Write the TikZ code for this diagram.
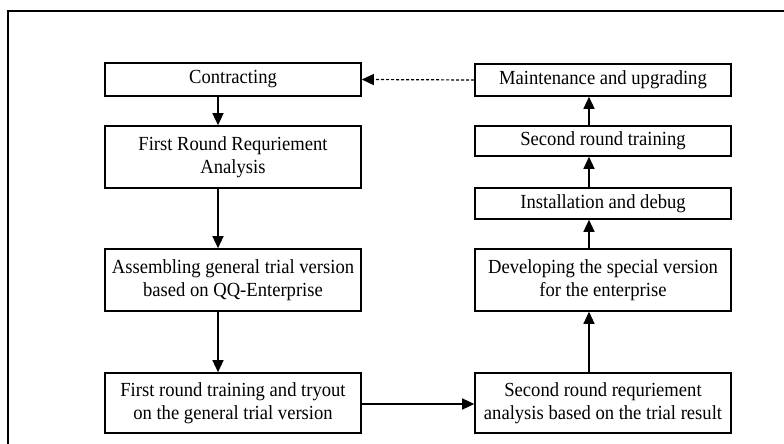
\documentclass[tikz,border=0pt]{standalone}
\usepackage{fontspec}
\setmainfont{Liberation Serif}[FakeStretch=0.93]
\usetikzlibrary{arrows.meta}
\begin{document}
\begin{tikzpicture}[x=1pt,y=-1pt,
  box/.style={draw,line width=1.6pt,minimum width=256pt,inner sep=0pt,align=center,
    font=\fontsize{20}{23}\selectfont},
  link/.style={line width=1.3pt,-{Triangle[length=12pt,width=11pt]}},
  dlink/.style={line width=1.2pt,dash pattern=on 3pt off 2pt,-{Triangle[length=12pt,width=11pt]}}]
\useasboundingbox (0,0) rectangle (784,444);
\draw[line width=1.8pt] (784,11) -- (8,11) -- (8,444);
\node[box,minimum height=33pt] (contract) at (233,79.5) {Contracting};
\node[box,minimum height=62pt] (fra) at (233,157) {First Round Requriement\\Analysis};
\node[box,minimum height=62pt] (asm) at (233,280) {Assembling general trial version\\based on QQ-Enterprise};
\node[box,minimum height=60pt] (frt) at (233,403) {First round training and tryout\\on the general trial version};
\node[box,minimum height=32pt] (maint) at (603,80) {Maintenance and upgrading};
\node[box,minimum height=30pt] (srt) at (603,141) {Second round training};
\node[box,minimum height=31pt] (inst) at (603,203.5) {Installation and debug};
\node[box,minimum height=62pt] (dev) at (603,280) {Developing the special version\\for the enterprise};
\node[box,minimum height=60pt] (srr) at (603,403) {Second round requriement\\analysis based on the trial result};
\draw[link] ([xshift=-15pt]contract.south) -- ([xshift=-15pt]fra.north);
\draw[link] ([xshift=-15pt]fra.south) -- ([xshift=-15pt]asm.north);
\draw[link] ([xshift=-15pt]asm.south) -- ([xshift=-15pt]frt.north);
\draw[link] ([yshift=-1pt]frt.east) -- ([yshift=-1pt]srr.west);
\draw[link] ([xshift=-14pt]srr.north) -- ([xshift=-14pt]dev.south);
\draw[link] ([xshift=-14pt]dev.north) -- ([xshift=-14pt]inst.south);
\draw[link] ([xshift=-14pt]inst.north) -- ([xshift=-14pt]srt.south);
\draw[link] ([xshift=-14pt]srt.north) -- ([xshift=-14pt]maint.south);
\draw[dlink] (maint.west) -- (contract.east);
\end{tikzpicture}
\end{document}
